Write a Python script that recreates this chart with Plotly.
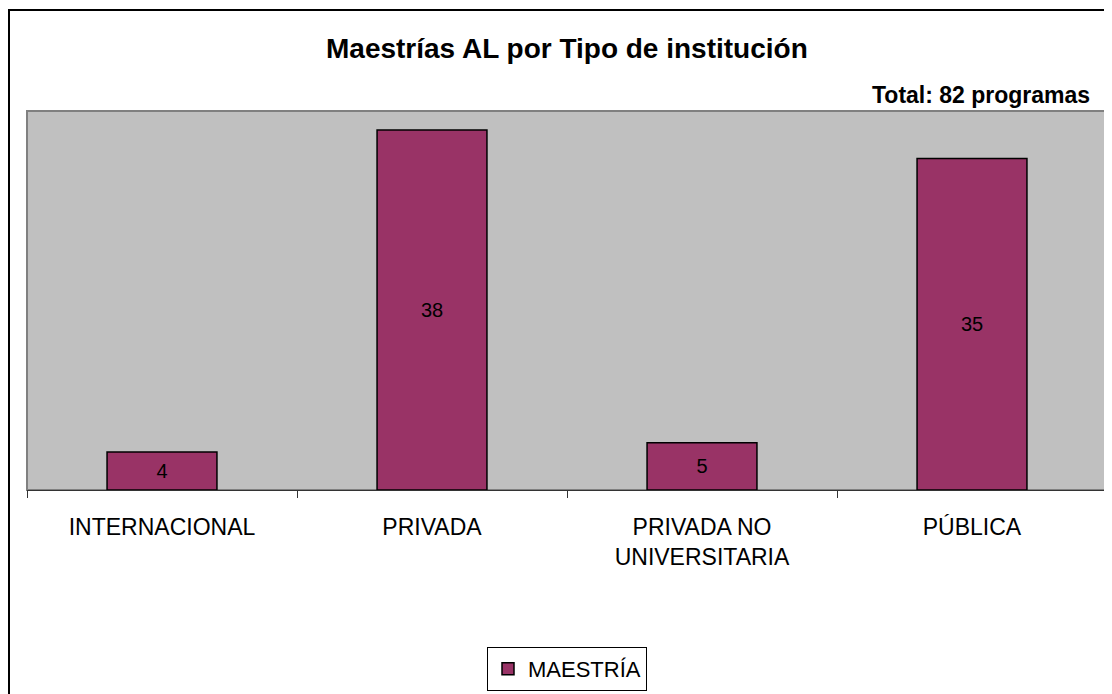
import plotly.graph_objects as go

categories = ["INTERNACIONAL", "PRIVADA", "PRIVADA NO<br>UNIVERSITARIA", "PÚBLICA"]
values = [4, 38, 5, 35]
series_name = "MAESTRÍA"
title_text = "Maestrías AL por Tipo de institución"
total_text = "Total: 82 programas"

FONT = "Liberation Sans, Arial, sans-serif"

# page has an 8px body margin; figure coords = page coords - 8
L, R, T, B = 19, 1099, 103, 482
W, H = 1104, 686
PW, PH = R - L, B - T

fig = go.Figure()
fig.add_trace(go.Bar(
    x=categories, y=values, name=series_name,
    marker=dict(color="#993366", line=dict(color="#000000", width=1.5)),
    text=[str(v) for v in values], textposition="inside", insidetextanchor="middle",
    textangle=0, textfont=dict(family=FONT, size=20, color="#000000"),
    constraintext="none",
))

fig.update_layout(
    width=W, height=H,
    margin=dict(l=L, r=W - R, t=T, b=H - B, autoexpand=False),
    paper_bgcolor="#FFFFFF", plot_bgcolor="#C0C0C0",
    bargap=0.593,
    showlegend=True,
    legend=dict(x=0.5, xanchor="center", y=(B - 661) / PH, yanchor="middle",
                orientation="h", bordercolor="#000000", borderwidth=1,
                bgcolor="#FFFFFF", font=dict(family=FONT, size=22, color="#000000")),
    font=dict(family=FONT, color="#000000"),
)

fig.update_xaxes(
    showgrid=False, showline=True, linecolor="#333333", linewidth=1,
    ticks="outside", tickson="boundaries", ticklen=7, tickcolor="#333333",
    tickfont=dict(family=FONT, size=23, color="#000000"),
    ticklabelstandoff=16,
)
fig.update_yaxes(range=[0, 40], showgrid=False, showticklabels=False,
                 zeroline=False, showline=False, ticks="")

# plot area border
fig.add_shape(type="rect", xref="paper", yref="paper", x0=0, x1=1, y0=0, y1=1,
              line=dict(color="#808080", width=2), layer="below")
# outer chart frame
fig.add_shape(type="rect", xref="paper", yref="paper",
              x0=(1 - L) / PW, x1=1.05, y0=-0.7, y1=1 + (T - 2) / PH,
              line=dict(color="#000000", width=2))

fig.add_annotation(text="<b>" + title_text + "</b>", xref="paper", yref="paper",
                   x=0.5, y=1 + (T - 41) / PH, xanchor="center", yanchor="middle",
                   showarrow=False, font=dict(family=FONT, size=28, color="#000000"))
fig.add_annotation(text="<b>" + total_text + "</b>", xref="paper", yref="paper",
                   x=(1084 - L) / PW, y=1 + (T - 87) / PH, xanchor="right", yanchor="middle",
                   showarrow=False, font=dict(family=FONT, size=23, color="#000000"))

fig.write_html("out.html")
